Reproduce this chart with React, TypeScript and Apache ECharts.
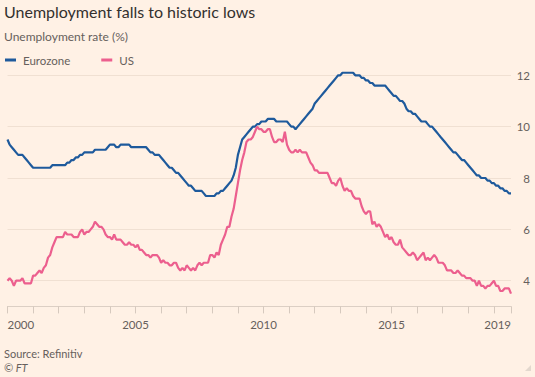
import React, { useEffect, useRef } from "react";
import * as echarts from "echarts";

// Monthly unemployment rates, Jan 2000 – Sep 2019
const eurozone: number[] = [
  // 2000
  9.5, 9.3, 9.2, 9.1, 9.0, 8.9, 8.9, 8.9, 8.8, 8.7, 8.6, 8.5,
  // 2001
  8.4, 8.4, 8.4, 8.4, 8.4, 8.4, 8.4, 8.4, 8.4, 8.5, 8.5, 8.5,
  // 2002
  8.5, 8.5, 8.5, 8.5, 8.6, 8.6, 8.7, 8.7, 8.8, 8.8, 8.9, 8.9,
  // 2003
  9.0, 9.0, 9.0, 9.0, 9.0, 9.1, 9.1, 9.1, 9.1, 9.1, 9.1, 9.2,
  // 2004
  9.3, 9.3, 9.3, 9.2, 9.2, 9.3, 9.3, 9.3, 9.3, 9.3, 9.2, 9.2,
  // 2005
  9.2, 9.2, 9.2, 9.2, 9.2, 9.2, 9.1, 9.0, 9.0, 8.9, 8.9, 8.9,
  // 2006
  8.8, 8.7, 8.6, 8.5, 8.4, 8.4, 8.3, 8.2, 8.2, 8.1, 8.0, 7.9,
  // 2007
  7.8, 7.7, 7.7, 7.6, 7.5, 7.5, 7.5, 7.5, 7.4, 7.3, 7.3, 7.3,
  // 2008
  7.3, 7.3, 7.4, 7.4, 7.5, 7.5, 7.6, 7.7, 7.8, 7.9, 8.1, 8.4,
  // 2009
  8.9, 9.2, 9.5, 9.6, 9.7, 9.8, 9.9, 10.0, 10.0, 10.1, 10.1, 10.2,
  // 2010
  10.2, 10.2, 10.3, 10.3, 10.3, 10.3, 10.2, 10.2, 10.2, 10.2, 10.2, 10.2,
  // 2011
  10.1, 10.0, 10.0, 9.9, 10.0, 10.1, 10.2, 10.3, 10.4, 10.5, 10.6, 10.7,
  // 2012
  10.9, 11.0, 11.1, 11.2, 11.3, 11.4, 11.5, 11.6, 11.7, 11.8, 11.9, 12.0,
  // 2013
  12.0, 12.1, 12.1, 12.1, 12.1, 12.1, 12.1, 12.0, 12.0, 12.0, 11.9, 11.9,
  // 2014
  11.8, 11.8, 11.7, 11.7, 11.6, 11.6, 11.6, 11.6, 11.6, 11.6, 11.5, 11.4,
  // 2015
  11.3, 11.2, 11.2, 11.1, 11.0, 11.0, 10.9, 10.7, 10.6, 10.6, 10.5, 10.5,
  // 2016
  10.4, 10.3, 10.2, 10.2, 10.2, 10.1, 10.0, 10.0, 9.9, 9.8, 9.7, 9.6,
  // 2017
  9.5, 9.4, 9.3, 9.2, 9.1, 9.0, 9.0, 8.9, 8.8, 8.7, 8.7, 8.6,
  // 2018
  8.5, 8.4, 8.3, 8.2, 8.1, 8.1, 8.0, 8.0, 8.0, 7.9, 7.9, 7.8,
  // 2019
  7.8, 7.7, 7.7, 7.6, 7.6, 7.5, 7.5, 7.4, 7.4,
];

const us: number[] = [
  // 2000
  4.0, 4.1, 4.0, 3.8, 4.0, 4.0, 4.0, 4.1, 3.9, 3.9, 3.9, 3.9,
  // 2001
  4.2, 4.2, 4.3, 4.4, 4.3, 4.5, 4.6, 4.9, 5.0, 5.3, 5.5, 5.7,
  // 2002
  5.7, 5.7, 5.7, 5.9, 5.8, 5.8, 5.8, 5.7, 5.7, 5.7, 5.9, 6.0,
  // 2003
  5.8, 5.9, 5.9, 6.0, 6.1, 6.3, 6.2, 6.1, 6.1, 6.0, 5.8, 5.7,
  // 2004
  5.7, 5.6, 5.8, 5.6, 5.6, 5.6, 5.5, 5.4, 5.4, 5.5, 5.4, 5.4,
  // 2005
  5.3, 5.4, 5.2, 5.2, 5.1, 5.0, 5.0, 4.9, 5.0, 5.0, 5.0, 4.9,
  // 2006
  4.7, 4.8, 4.7, 4.7, 4.6, 4.6, 4.7, 4.7, 4.5, 4.4, 4.5, 4.4,
  // 2007
  4.6, 4.5, 4.4, 4.5, 4.4, 4.6, 4.7, 4.6, 4.7, 4.7, 4.7, 5.0,
  // 2008
  5.0, 4.9, 5.1, 5.0, 5.4, 5.6, 5.8, 6.1, 6.1, 6.5, 6.8, 7.3,
  // 2009
  7.8, 8.3, 8.7, 9.0, 9.4, 9.5, 9.5, 9.6, 9.8, 10.0, 9.9, 9.9,
  // 2010
  9.8, 9.8, 9.9, 9.9, 9.6, 9.4, 9.4, 9.5, 9.5, 9.4, 9.8, 9.3,
  // 2011
  9.1, 9.0, 9.0, 9.1, 9.0, 9.1, 9.0, 9.0, 9.0, 8.8, 8.6, 8.5,
  // 2012
  8.3, 8.3, 8.2, 8.2, 8.2, 8.2, 8.2, 8.0, 7.8, 7.8, 7.7, 7.9,
  // 2013
  8.0, 7.7, 7.5, 7.6, 7.5, 7.5, 7.3, 7.2, 7.2, 7.2, 6.9, 6.7,
  // 2014
  6.6, 6.7, 6.7, 6.2, 6.3, 6.1, 6.2, 6.1, 5.9, 5.7, 5.8, 5.6,
  // 2015
  5.7, 5.5, 5.4, 5.4, 5.6, 5.3, 5.2, 5.1, 5.0, 5.0, 5.1, 5.0,
  // 2016
  4.8, 4.9, 5.0, 5.1, 4.8, 4.9, 4.8, 4.9, 5.0, 4.9, 4.7, 4.7,
  // 2017
  4.7, 4.6, 4.4, 4.4, 4.4, 4.3, 4.3, 4.4, 4.3, 4.2, 4.2, 4.1,
  // 2018
  4.1, 4.1, 4.0, 4.0, 3.8, 4.0, 3.8, 3.8, 3.7, 3.8, 3.8, 3.9,
  // 2019
  4.0, 3.8, 3.8, 3.6, 3.6, 3.7, 3.7, 3.7, 3.5,
];

const startYear = 2000;
const months: string[] = eurozone.map((_, i) => {
  const y = startYear + Math.floor(i / 12);
  const m = (i % 12) + 1;
  return `${y}-${m < 10 ? "0" + m : m}`;
});

const labelYears = ["2000", "2005", "2010", "2015"];
const yTicks = [4, 6, 8, 10, 12];

const FONT = "Lato, 'Open Sans', sans-serif";
const BG = "#fff1e5";
const TXT = "#66605c";
const BLUE = "#1e5a9c";
const PINK = "#ec5f8e";

export default function App() {
  const ref = useRef<HTMLDivElement>(null);

  useEffect(() => {
    if (!ref.current) return;
    const chart = echarts.init(ref.current, undefined, { renderer: "svg" });
    const last = months.length - 1;
    chart.setOption({
      animation: false,
      backgroundColor: BG,
      textStyle: { fontFamily: FONT },
      title: [
        {
          text: "Unemployment falls to historic lows",
          left: 4,
          top: 3,
          padding: 0,
          textStyle: { fontFamily: FONT, fontSize: 16, fontWeight: "normal", color: "#33302e" },
        },
        {
          text: "Unemployment rate (%)",
          left: 4,
          top: 30,
          padding: 0,
          textStyle: { fontFamily: FONT, fontSize: 12, fontWeight: "normal", color: TXT },
        },
      ],
      legend: {
        data: ["Eurozone", "US"],
        left: 5,
        top: 54,
        padding: 0,
        icon: "rect",
        itemWidth: 11,
        itemHeight: 3,
        itemGap: 31,
        selectedMode: false,
        textStyle: { fontFamily: FONT, fontSize: 11.5, color: TXT, padding: [0, 0, 0, 2] },
      },
      grid: { left: 7.5, right: 24, top: 75.3, bottom: 70.6 },
      xAxis: {
        type: "category",
        data: months,
        boundaryGap: false,
        axisLine: { lineStyle: { color: "#dccfc4", width: 1 } },
        axisTick: {
          show: true,
          length: 7,
          interval: (i: number) => i % 12 === 0 || i === last,
          lineStyle: { color: "#d6c9be" },
        },
        axisLabel: {
          interval: (i: number, v: string) => labelYears.includes(v.slice(0, 4)) && i % 12 === 0 || i === last,
          formatter: (v: string) => v.slice(0, 4),
          color: TXT,
          fontFamily: FONT,
          fontSize: 11.5,
          margin: 12,
          alignMinLabel: "left",
          alignMaxLabel: "right",
        },
        splitLine: { show: false },
      },
      yAxis: {
        type: "value",
        position: "right",
        min: 3,
        max: 12,
        splitNumber: 5,
        axisLine: { show: false },
        axisTick: { show: false },
        axisLabel: {
          showMinLabel: false,
          formatter: (v: number) => (yTicks.includes(v) ? String(v) : ""),
          color: TXT,
          fontFamily: FONT,
          fontSize: 11.5,
          align: "right",
          margin: 19,
        },
        splitLine: { lineStyle: { color: "#f0e0d2", width: 1 } },
      },
      series: [
        {
          name: "Eurozone",
          type: "line",
          data: eurozone,
          showSymbol: false,
          clip: false,
          color: BLUE,
          lineStyle: { color: BLUE, width: 2.2 },
        },
        {
          name: "US",
          type: "line",
          data: us,
          showSymbol: false,
          clip: false,
          color: PINK,
          lineStyle: { color: PINK, width: 2.2 },
        },
      ],
      graphic: [
        {
          type: "text",
          left: 4,
          top: 348,
          style: { text: "Source: Refinitiv", fontFamily: FONT, fontSize: 11, fill: TXT },
        },
        {
          type: "text",
          left: 4,
          top: 362,
          style: { text: "© FT", fontFamily: FONT, fontSize: 11, fontStyle: "italic", fill: TXT },
        },
        {
          type: "polygon",
          shape: { points: [[531, 365], [531, 371], [525, 371]] },
          style: { fill: "#e3d8ce" },
        },
      ],
    });
    return () => chart.dispose();
  }, []);

  return (
    <div
      ref={ref}
      style={{ position: "fixed", left: 0, top: 0, width: 535, height: 377 }}
    />
  );
}
